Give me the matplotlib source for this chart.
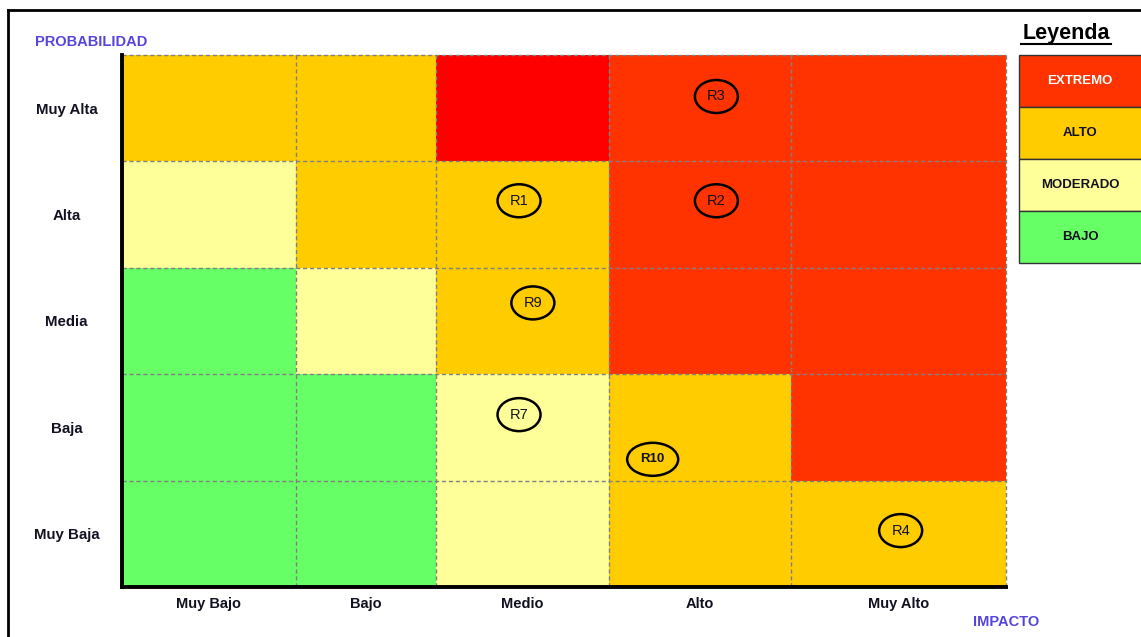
import matplotlib
matplotlib.use("Agg")
import matplotlib.pyplot as plt
from matplotlib.patches import Rectangle, Ellipse
from matplotlib.lines import Line2D

plt.rcParams['font.family'] = ['Liberation Sans', 'DejaVu Sans']

# ---------------- data ----------------
impacto = ["Muy Bajo", "Bajo", "Medio", "Alto", "Muy Alto"]
probabilidad = ["Muy Alta", "Alta", "Media", "Baja", "Muy Baja"]   # top to bottom
niveles = ["EXTREMO", "ALTO", "MODERADO", "BAJO"]
# level per cell (rows top->bottom, cols left->right); "EXTREMO+" = pure red cell
matriz = [
    ["ALTO",     "ALTO",     "EXTREMO+", "EXTREMO", "EXTREMO"],
    ["MODERADO", "ALTO",     "ALTO",     "EXTREMO", "EXTREMO"],
    ["BAJO",     "MODERADO", "ALTO",     "EXTREMO", "EXTREMO"],
    ["BAJO",     "BAJO",     "MODERADO", "ALTO",    "EXTREMO"],
    ["BAJO",     "BAJO",     "MODERADO", "ALTO",    "ALTO"],
]
riesgos = ["R3", "R2", "R1", "R9", "R7", "R10", "R4"]
riesgo_impacto = [3.59, 3.59, 2.48, 2.56, 2.48, 3.24, 4.51]      # column index + position in cell
riesgo_prob = [0.39, 1.37, 1.37, 2.33, 3.38, 3.80, 4.47]         # row index (from top) + position in cell

# ---------------- styles / layout ----------------
colores = {"EXTREMO": "#FF3300", "EXTREMO+": "#FF0000", "ALTO": "#FFCC00",
           "MODERADO": "#FFFF99", "BAJO": "#66FF66"}
col_edges = [0, 174, 314, 487, 669, 884]   # pixel widths of the columns
W, H = 1141, 637
ax_l, ax_r, ax_t, ax_b = 122, 1006, 55, 587
label_col = "#111122"
blue = "#5544DD"

fig = plt.figure(figsize=(W / 100, H / 100), dpi=100)
ax = fig.add_axes([ax_l / W, 1 - ax_b / H, (ax_r - ax_l) / W, (ax_b - ax_t) / H])
ax.set_xlim(col_edges[0], col_edges[-1])
ax.set_ylim(5, 0)

def xpos(v):
    i = min(int(v), len(col_edges) - 2)
    f = v - i
    return col_edges[i] + f * (col_edges[i + 1] - col_edges[i])

for r, fila in enumerate(matriz):
    for c, nivel in enumerate(fila):
        ax.add_patch(Rectangle((col_edges[c], r), col_edges[c + 1] - col_edges[c], 1,
                               facecolor=colores[nivel], edgecolor="none", zorder=1))

# dashed grid
for x in col_edges[1:]:
    ax.plot([x, x], [0, 5], ls=(0, (3, 2)), color="#808080", lw=1.0, zorder=2, clip_on=False)
for y in range(0, 5):
    ax.plot([0, col_edges[-1]], [y, y], ls=(0, (3, 2)), color="#808080", lw=1.0, zorder=2, clip_on=False)

for s in ["top", "right"]:
    ax.spines[s].set_visible(False)
for s in ["left", "bottom"]:
    ax.spines[s].set_linewidth(2.8)
    ax.spines[s].set_color("black")
    ax.spines[s].set_zorder(5)

centers = [(col_edges[i] + col_edges[i + 1]) / 2 for i in range(5)]
ax.set_xticks(centers)
ax.set_xticklabels(impacto, fontsize=10.5, fontweight="bold", color=label_col)
ax.set_yticks([i + 0.5 for i in range(5)])
ax.set_yticklabels(probabilidad, fontsize=10.8, fontweight="bold", color=label_col, ha="center")
ax.tick_params(axis="both", length=0)
ax.tick_params(axis="x", pad=7.5)
ax.tick_params(axis="y", pad=40)

# risk ellipses
for lab, xi, yi in zip(riesgos, riesgo_impacto, riesgo_prob):
    x = xpos(xi)
    w = 51 if len(lab) > 2 else 43
    ax.add_patch(Ellipse((x, yi), w, 0.31, facecolor="none", edgecolor="black", lw=1.8, zorder=6))
    ax.text(x, yi, lab, ha="center", va="center", fontsize=10.5 if len(lab) == 2 else 9.5,
            color=label_col, fontweight="bold" if len(lab) > 2 else "normal", zorder=7)

# axis titles
fig.text(35 / W, 1 - 42 / H, "PROBABILIDAD", color=blue, fontsize=10.5, fontweight="bold",
         ha="left", va="center")
fig.text(973 / W, 1 - 622 / H, "IMPACTO", color=blue, fontsize=10.5, fontweight="bold",
         ha="left", va="center")

# legend
lx0, lx1 = 1019, 1141
ly = [55, 107, 159, 211, 263]
leg = fig.add_axes([lx0 / W, 1 - ly[-1] / H, (lx1 - lx0) / W, (ly[-1] - ly[0]) / H])
leg.set_xlim(0, 1)
leg.set_ylim(4, 0)
leg.axis("off")
for i, n in enumerate(niveles):
    leg.add_patch(Rectangle((0, i), 1.05, 1, facecolor=colores[n], edgecolor="#333333",
                            lw=1.0, clip_on=False))
    leg.text(0.5, i + 0.5, n, ha="center", va="center", fontsize=9.5, fontweight="bold",
             color="white" if n == "EXTREMO" else label_col)
fig.text(1066 / W, 1 - 34 / H, "Leyenda", fontsize=15.5, fontweight="bold", ha="center",
         va="center", color="black")
fig.add_artist(Line2D([1021 / W, 1111 / W], [1 - 44 / H, 1 - 44 / H], color="black", lw=1.5))

# outer frame (top and left)
fig.add_artist(Line2D([8 / W, 1.0], [1 - 10 / H, 1 - 10 / H], color="black", lw=2))
fig.add_artist(Line2D([8 / W, 8 / W], [0, 1 - 10 / H], color="black", lw=2))

fig.savefig("out.png", dpi=100)
